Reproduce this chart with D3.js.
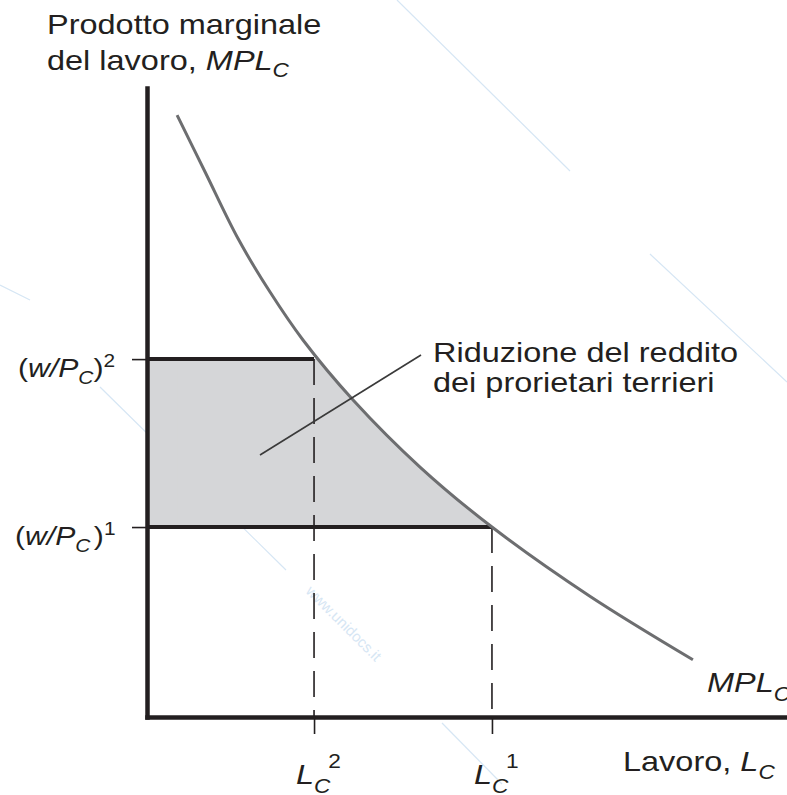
<!DOCTYPE html>
<html>
<head>
<meta charset="utf-8">
<script src="https://cdn.jsdelivr.net/npm/d3@7"></script>
<style>
  body { margin: 0; background: #fff; }
  svg { display: block; font-family: "Liberation Sans", Arial, sans-serif; }
</style>
</head>
<body>
<svg id="chart" width="787" height="795"></svg>
<script>
// MPL curve (labour, marginal product)
const mplLabour = [0.47, 0.91, 1.42, 1.92, 2.44, 3.22, 4.27, 5.39, 6.92, 8.53];
const mplValues = [9.57, 8.66, 7.61, 6.76, 5.99, 5.04, 3.97, 3.02, 1.92, 0.91];

// real wage levels and the labour they hire
const wageLevels = [5.69, 3.02];        // (w/P)^2, (w/P)^1
const wageTags = ["2", "1"];
const labourLevels = [2.61, 5.39];      // L^2, L^1
const labourTags = ["2", "1"];

const svg = d3.select("#chart");
const ink = "#231f20";
const fs = 28;   // base font size
const sx = 1.16; // glyphs in the figure are a bit wider than tall

const x = d3.scaleLinear().domain([0, 10]).range([147, 787]);
const y = d3.scaleLinear().domain([0, 10]).range([717, 88]);

const curveData = mplLabour.map((l, i) => ({ l, v: mplValues[i] }));

// faint watermark lines
const wm = svg.append("g").attr("stroke", "#d6e6f4").attr("stroke-width", 1.2);
[[397, 0, 570, 171], [650, 254, 787, 382], [100, 387, 286, 570], [442, 723, 502, 784], [0, 285, 30, 300]]
  .forEach(d => wm.append("line").attr("x1", d[0]).attr("y1", d[1]).attr("x2", d[2]).attr("y2", d[3]));
svg.append("text")
  .attr("transform", "translate(305,592) rotate(45)")
  .attr("font-size", 15).attr("fill", "#d6e6f4")
  .text("www.unidocs.it");

// shaded area: loss of landowners' income
const clip = svg.append("clipPath").attr("id", "band");
clip.append("rect")
  .attr("x", x(0)).attr("width", x(labourLevels[1]) - x(0))
  .attr("y", y(wageLevels[0])).attr("height", y(wageLevels[1]) - y(wageLevels[0]));

const shade = svg.append("g").attr("clip-path", "url(#band)").attr("fill", "#d5d6d8");
shade.append("rect")
  .attr("x", x(0)).attr("width", x(labourLevels[0]) - x(0))
  .attr("y", y(10)).attr("height", y(0) - y(10));
shade.append("path")
  .datum(curveData)
  .attr("d", d3.area()
    .x(d => x(d.l))
    .y0(y(0))
    .y1(d => y(d.v))
    .curve(d3.curveCatmullRom.alpha(0.5)));

// dashed drops to the labour axis
svg.append("g").selectAll("line")
  .data(labourLevels)
  .join("line")
  .attr("x1", d => x(d)).attr("x2", d => x(d))
  .attr("y1", (d, i) => y(wageLevels[i]))
  .attr("y2", y(0))
  .attr("stroke", ink).attr("stroke-width", 1.6)
  .attr("stroke-dasharray", "26,13");

// wage lines
svg.append("g").selectAll("line")
  .data(wageLevels)
  .join("line")
  .attr("x1", x(0)).attr("x2", (d, i) => x(labourLevels[i]))
  .attr("y1", d => y(d)).attr("y2", d => y(d))
  .attr("stroke", ink).attr("stroke-width", 4);

// MPL curve
svg.append("path")
  .datum(curveData)
  .attr("fill", "none")
  .attr("stroke", "#6d6e70")
  .attr("stroke-width", 3)
  .attr("d", d3.line()
    .x(d => x(d.l))
    .y(d => y(d.v))
    .curve(d3.curveCatmullRom.alpha(0.5)));

// leader line for the callout
svg.append("line")
  .attr("x1", 260).attr("y1", 455).attr("x2", 421).attr("y2", 355)
  .attr("stroke", "#3a3a3a").attr("stroke-width", 1.6);

// axes
const yAxis = svg.append("g")
  .attr("transform", `translate(${x(0)},0)`)
  .call(d3.axisLeft(y).tickValues(wageLevels).tickSize(15).tickSizeOuter(0).tickFormat(""));
const xAxis = svg.append("g")
  .attr("transform", `translate(0,${y(0)})`)
  .call(d3.axisBottom(x).tickValues(labourLevels).tickSize(17).tickSizeOuter(0).tickFormat(""));
[yAxis, xAxis].forEach(a => {
  a.select(".domain").attr("stroke", ink).attr("stroke-width", 4.5).attr("stroke-linecap", "square");
  a.selectAll(".tick line").attr("stroke", ink).attr("stroke-width", 1.6);
});

// plain text line, stretched a little sideways like the figure
function label(px, py, size) {
  return svg.append("text")
    .attr("transform", `translate(${px},${py}) scale(${sx},1)`)
    .attr("font-size", size).attr("fill", ink);
}
const sub = fs * 0.7;

label(47, 34, fs).text("Prodotto marginale");
const t2 = label(47, 70, fs);
t2.append("tspan").text("del lavoro, ");
t2.append("tspan").text("MPL").attr("font-style", "italic");
t2.append("tspan").text("C").attr("font-style", "italic").attr("font-size", sub).attr("dy", 7);

// wage tick labels
wageLevels.forEach((w, i) => {
  const t = label(i === 0 ? 18 : 15, y(w) + 18, 26);
  t.append("tspan").text("(");
  t.append("tspan").text("w/P").attr("font-style", "italic");
  t.append("tspan").text("C").attr("font-style", "italic").attr("font-size", 18).attr("dy", 7);
  t.append("tspan").text(")").attr("dy", -7).attr("dx", i === 0 ? 0 : 3);
  t.append("tspan").text(wageTags[i]).attr("font-size", 18).attr("dy", -10);
});

// labour tick labels
labourLevels.forEach((l, i) => {
  const t = label(x(l) - 18, y(0) + 67, fs);
  t.append("tspan").text("L").attr("font-style", "italic");
  t.append("tspan").text("C").attr("font-style", "italic").attr("font-size", sub).attr("dy", 9);
  t.append("tspan").text(labourTags[i]).attr("font-size", sub).attr("dx", -2).attr("dy", -25);
});

// axis title
const xt = label(623, 771, fs);
xt.append("tspan").text("Lavoro, ");
xt.append("tspan").text("L").attr("font-style", "italic");
xt.append("tspan").text("C").attr("font-style", "italic").attr("font-size", sub).attr("dy", 8);

// curve label
const ct = label(707, 692, fs);
ct.append("tspan").text("MPL").attr("font-style", "italic");
ct.append("tspan").text("C").attr("font-style", "italic").attr("font-size", sub).attr("dy", 9);

// callout
label(433, 362, fs).text("Riduzione del reddito");
label(433, 392, fs).text("dei prorietari terrieri");
</script>
</body>
</html>
